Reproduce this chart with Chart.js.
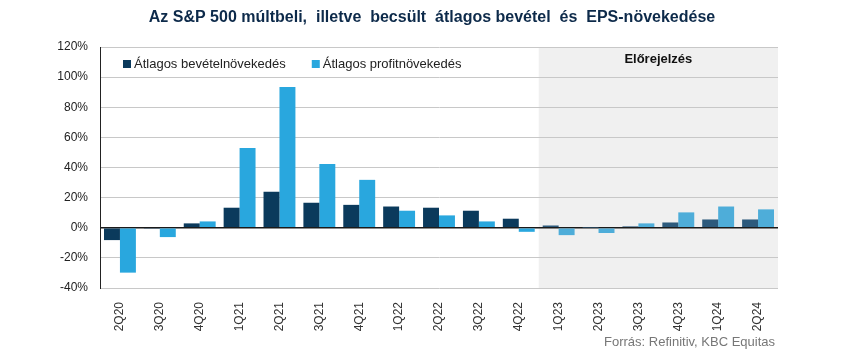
<!DOCTYPE html>
<html>
<head>
<meta charset="utf-8">
<script src="https://cdn.jsdelivr.net/npm/chart.js@4"></script>
<style>
  html, body { margin: 0; padding: 0; background: #fff; }
  #wrap { width: 850px; height: 354px; position: relative; }
</style>
</head>
<body>
<div id="wrap"><canvas id="chart"></canvas></div>
<script>
const labels = ["2Q20", "3Q20", "4Q20", "1Q21", "2Q21", "3Q21", "4Q21", "1Q22", "2Q22",
  "3Q22", "4Q22", "1Q23", "2Q23", "3Q23", "4Q23", "1Q24", "2Q24"];
const revenueGrowth = [-8.2, -0.7, 2.9, 13.3, 23.9, 16.6, 15.2, 14.1, 13.3, 11.3, 6.0, 1.5, 0.1, 0.9, 3.5, 5.5, 5.5];
const profitGrowth = [-29.8, -6.2, 4.2, 53.0, 93.5, 42.4, 31.8, 11.3, 8.2, 4.2, -2.7, -4.9, -3.5, 2.9, 10.2, 14.1, 12.2];
const forecastStart = 11; // first forecast quarter index (1Q23)
const yTicks = { min: -40, max: 120, step: 20 };

const FONT = "'Liberation Sans', Arial, sans-serif";

const revColor = (ctx) => ctx.dataIndex >= forecastStart ? "#2d5a7c" : "#0b3a5c";
const profColor = (ctx) => ctx.dataIndex >= forecastStart ? "#4eadd9" : "#29a7de";

// gray forecast background + label, drawn beneath grid lines
const forecastPlugin = {
  id: "forecast",
  beforeDraw(chart) {
    const { ctx, chartArea, scales } = chart;
    const x0 = (scales.x.getPixelForValue(forecastStart - 1) + scales.x.getPixelForValue(forecastStart)) / 2;
    ctx.save();
    ctx.fillStyle = "#f0f0f0";
    ctx.fillRect(x0, chartArea.top, chartArea.right - x0, chartArea.bottom - chartArea.top);
    ctx.restore();
  },
  afterDatasetsDraw(chart) {
    const { ctx, chartArea, scales } = chart;
    const x0 = (scales.x.getPixelForValue(forecastStart - 1) + scales.x.getPixelForValue(forecastStart)) / 2;
    ctx.save();
    ctx.fillStyle = "#111";
    ctx.font = "bold 13px " + FONT;
    ctx.textAlign = "center";
    ctx.textBaseline = "middle";
    ctx.fillText("Előrejelzés", (x0 + chartArea.right) / 2, chartArea.top + 12);

    // legend inside plot area
    ctx.font = "13px " + FONT;
    ctx.textAlign = "left";
    let x = chartArea.left + 23;
    const y = chartArea.top + 17;
    chart.data.datasets.forEach((ds, i) => {
      ctx.fillStyle = i === 0 ? "#0b3a5c" : "#29a7de";
      ctx.fillRect(x, y - 4, 8, 8);
      ctx.fillStyle = "#222";
      ctx.fillText(ds.label, x + 11, y);
      x += 11 + ctx.measureText(ds.label).width + 26;
    });

    // title and source
    ctx.textAlign = "center";
    ctx.fillStyle = "#0d2a4a";
    ctx.font = "bold 16px " + FONT;
    ctx.fillText("Az S&P 500 múltbeli,  illetve  becsült  átlagos bevétel  és  EPS-növekedése", 432, 18);
    ctx.textAlign = "right";
    ctx.fillStyle = "#777";
    ctx.font = "13px " + FONT;
    ctx.fillText("Forrás: Refinitiv, KBC Equitas", 775, 342);
    ctx.restore();
  }
};

new Chart(document.getElementById("chart"), {
  type: "bar",
  data: {
    labels: labels,
    datasets: [
      {
        label: "Átlagos bevételnövekedés",
        data: revenueGrowth,
        backgroundColor: revColor,
        categoryPercentage: 0.8,
        barPercentage: 1.0,
      },
      {
        label: "Átlagos profitnövekedés",
        data: profitGrowth,
        backgroundColor: profColor,
        categoryPercentage: 0.8,
        barPercentage: 1.0,
      },
    ],
  },
  options: {
    responsive: true,
    maintainAspectRatio: false,
    animation: false,
    layout: { padding: { top: 47, right: 72, bottom: 20, left: 0 } },
    plugins: {
      legend: { display: false },
      tooltip: { enabled: false },
    },
    scales: {
      x: {
        grid: { display: false },
        border: { display: false },
        ticks: {
          minRotation: 90,
          maxRotation: 90,
          color: "#333",
          font: { family: FONT, size: 12 },
          padding: 6,
        },
        afterFit: (s) => { s.height = 46; },
      },
      y: {
        min: yTicks.min,
        max: yTicks.max,
        border: { display: true, color: "#222", width: 1 },
        grid: {
          color: (c) => c.tick && c.tick.value === 0 ? "#1a1a1a" : "#c8c8c8",
          lineWidth: (c) => c.tick && c.tick.value === 0 ? 1.5 : 1,
          drawTicks: false,
        },
        ticks: {
          stepSize: yTicks.step,
          color: "#222",
          font: { family: FONT, size: 12 },
          padding: 12,
          callback: (v) => v + "%",
        },
        afterFit: (s) => { s.width = 100; },
      },
    },
  },
  plugins: [forecastPlugin],
});
</script>
</body>
</html>
